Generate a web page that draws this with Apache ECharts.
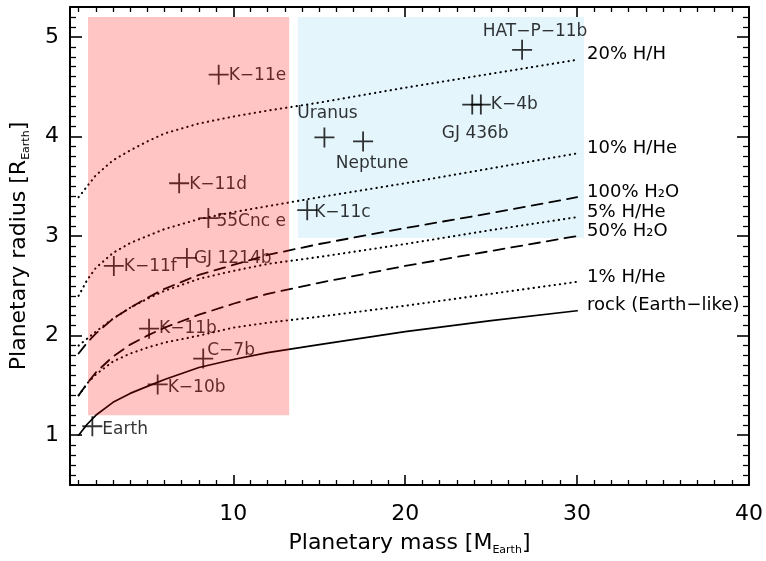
<!DOCTYPE html>
<html>
<head>
<meta charset="utf-8">
<script src="https://cdn.jsdelivr.net/npm/echarts@6/dist/echarts.min.js"></script>
<style>
  html, body { margin: 0; padding: 0; background: #fff; }
  #chart { width: 766px; height: 561px; }
</style>
</head>
<body>
<div id="chart"></div>
<script type="text/javascript">
	// model curves: radius vs mass
	var massGrid   = [1, 1.5, 2, 3, 4, 5, 6, 8, 10, 12, 15, 20, 25, 30];
	var hh20       = [3.39, 3.50, 3.61, 3.76, 3.86, 3.95, 4.03, 4.13, 4.20, 4.26, 4.34, 4.49, 4.63, 4.77];
	var hhe10      = [2.40, 2.56, 2.68, 2.83, 2.93, 3.00, 3.07, 3.17, 3.24, 3.30, 3.39, 3.53, 3.68, 3.83];
	var water100   = [1.82, 1.93, 2.02, 2.17, 2.28, 2.38, 2.47, 2.61, 2.71, 2.81, 2.92, 3.08, 3.23, 3.39];
	var hhe5       = [1.90, 1.97, 2.04, 2.17, 2.28, 2.37, 2.45, 2.57, 2.65, 2.72, 2.79, 2.92, 3.06, 3.19];
	var water50    = [1.40, 1.52, 1.63, 1.79, 1.91, 2.00, 2.08, 2.21, 2.32, 2.42, 2.53, 2.70, 2.85, 3.00];
	var hhe1       = [1.40, 1.52, 1.61, 1.74, 1.82, 1.88, 1.93, 2.00, 2.08, 2.13, 2.19, 2.30, 2.42, 2.54];
	var rockEarth  = [1.00, 1.11, 1.20, 1.33, 1.42, 1.49, 1.56, 1.68, 1.76, 1.83, 1.91, 2.04, 2.15, 2.25];

	// planets
	var planetNames  = ['Earth', 'K−10b', 'C−7b', 'K−11b', 'K−11f', 'GJ 1214b', '55Cnc e', 'K−11d', 'K−11e',
	                    'Uranus', 'Neptune', 'K−11c', 'GJ 436b', 'K−4b', 'HAT−P−11b'];
	var planetMass   = [1.8, 5.6, 8.25, 5.1, 3.05, 7.3, 8.55, 6.85, 9.15, 15.3, 17.55, 14.3, 23.9, 24.4, 26.8];
	var planetRadius = [1.09, 1.51, 1.77, 2.07, 2.70, 2.78, 3.18, 3.53, 4.62, 3.99, 3.95, 3.26, 4.32, 4.32, 4.87];

	// shaded zones [mass, radius] corners
	var pinkZone = [[1.55, 1.2], [13.25, 5.2]];
	var blueZone = [[13.75, 2.98], [30.4, 5.2]];

	// ticks
	var xMajorTicks = [10, 20, 30, 40];
	var xMinorTicks = [1, 2, 3, 4, 5, 6, 7, 8, 9, 11, 12, 13, 14, 15, 16, 17, 18, 19,
	                   21, 22, 23, 24, 25, 26, 27, 28, 29, 31, 32, 33, 34, 35, 36, 37, 38, 39];
	var yMajorTicks = [1, 2, 3, 4, 5];
	var yMinorTicks = [0.6, 0.7, 0.8, 0.9, 1.1, 1.2, 1.3, 1.4, 1.5, 1.6, 1.7, 1.8, 1.9,
	                   2.1, 2.2, 2.3, 2.4, 2.5, 2.6, 2.7, 2.8, 2.9, 3.1, 3.2, 3.3, 3.4, 3.5, 3.6, 3.7, 3.8, 3.9,
	                   4.1, 4.2, 4.3, 4.4, 4.5, 4.6, 4.7, 4.8, 4.9, 5.1, 5.2];

	var FONT = 'DejaVu Sans';
	var DOT = [0.3, 5.0];
	var DASH = [11, 7];

	function zip(xs, ys) {
		var out = [];
		for (var i = 0; i < xs.length; i++) out.push([xs[i], ys[i]]);
		return out;
	}

	var labelPlace = {
		'Earth':     {position: 'right',  distance: 0, offset: [0, 3]},
		'K−10b':     {position: 'right',  distance: 0, offset: [0, 3]},
		'C−7b':      {position: 'right',  distance: 0, offset: [-6, -8]},
		'K−11b':     {position: 'right',  distance: 0, offset: [0, 0]},
		'K−11f':     {position: 'right',  distance: 0, offset: [0, 1]},
		'GJ 1214b':  {position: 'right',  distance: 0, offset: [-3, 1]},
		'55Cnc e':   {position: 'right',  distance: 0, offset: [-2, 3]},
		'K−11d':     {position: 'right',  distance: 0, offset: [0, 1]},
		'K−11e':     {position: 'right',  distance: 0, offset: [0, 1]},
		'Uranus':    {position: 'top',    distance: 5, offset: [3, 0]},
		'Neptune':   {position: 'bottom', distance: 4, offset: [9, 0]},
		'K−11c':     {position: 'right',  distance: 0, offset: [-3, 2]},
		'GJ 436b':   {position: 'bottom', distance: 10, offset: [3, 0]},
		'K−4b':      {position: 'right',  distance: 0, offset: [0, 0]},
		'HAT−P−11b': {position: 'top',    distance: 0, offset: [13, 0]}
	};

	var planetData = [];
	for (var i = 0; i < planetNames.length; i++) {
		var p = labelPlace[planetNames[i]];
		planetData.push({
			name: planetNames[i],
			value: [planetMass[i], planetRadius[i]],
			label: {show: true, position: p.position, distance: p.distance, offset: p.offset}
		});
	}

	function modelLine(name, ys, type) {
		return {
			name: name,
			type: 'line',
			data: zip(massGrid, ys),
			symbol: 'none',
			silent: true,
			lineStyle: {color: '#000', width: type === 'solid' ? 1.7 : (type === DOT ? 2.1 : 1.8), type: type, cap: 'round'},
			endLabel: {show: true, formatter: name, offset: [2, -5], color: '#000', fontSize: 18, fontFamily: FONT}
		};
	}

	function axis(pos, ticks, len, show, range) {
		return {
			type: 'value', position: pos, min: range[0], max: range[1],
			splitLine: {show: false},
			axisLine: {show: show, onZero: false, lineStyle: {color: '#000', width: 2}},
			axisTick: {show: true, inside: true, length: len, customValues: ticks,
			           lineStyle: {color: '#000', width: len > 8 ? 1.6 : 1.3}},
			axisLabel: {show: false}
		};
	}

	var xRange = [0.5, 40];
	var yRange = [0.5, 5.3];

	var xMain = axis('bottom', xMajorTicks, 10, true, xRange);
	xMain.axisLabel = {show: true, customValues: xMajorTicks, margin: 18, color: '#000', fontSize: 22, fontFamily: FONT};
	xMain.name = '{t|Planetary mass [M}{s|Earth}{t|]}';
	xMain.nameLocation = 'middle';
	xMain.nameGap = 45;
	xMain.nameTextStyle = {color: '#000', rich: {
		t: {fontSize: 22, fontFamily: FONT, color: '#000', lineHeight: 26},
		s: {fontSize: 11, fontFamily: FONT, color: '#000', verticalAlign: 'bottom', lineHeight: 14}
	}};

	var yMain = axis('left', yMajorTicks, 12, true, yRange);
	yMain.axisLabel = {show: true, customValues: yMajorTicks, margin: 11, color: '#000', fontSize: 22, fontFamily: FONT};
	yMain.name = '{t|Planetary radius [R}{s|Earth}{t|]}';
	yMain.nameLocation = 'middle';
	yMain.nameGap = 38;
	yMain.nameTextStyle = {color: '#000', rich: {
		t: {fontSize: 22, fontFamily: FONT, color: '#000', lineHeight: 26},
		s: {fontSize: 11, fontFamily: FONT, color: '#000', verticalAlign: 'bottom', lineHeight: 14}
	}};

	var chart = echarts.init(document.getElementById('chart'));
	chart.setOption({
		animation: false,
		backgroundColor: '#fff',
		textStyle: {fontFamily: FONT},
		grid: {left: 70, right: 15, top: 7, bottom: 70, containLabel: false},
		xAxis: [
			xMain,
			axis('bottom', xMinorTicks, 5, false, xRange),
			axis('top', xMajorTicks, 10, true, xRange),
			axis('top', xMinorTicks, 5, false, xRange)
		],
		yAxis: [
			yMain,
			axis('left', yMinorTicks, 6, false, yRange),
			axis('right', yMajorTicks, 12, true, yRange),
			axis('right', yMinorTicks, 6, false, yRange)
		],
		series: [
			{
				// light blue zone sits under the marks
				name: 'blueZone',
				type: 'scatter',
				data: [],
				silent: true,
				markArea: {
					silent: true,
					z: 0,
					label: {show: false},
					itemStyle: {color: '#e4f5fc'},
					data: [[{coord: blueZone[0]}, {coord: blueZone[1]}]]
				}
			},
			modelLine('20% H/H', hh20, DOT),
			modelLine('10% H/He', hhe10, DOT),
			modelLine('100% H₂O', water100, DASH),
			modelLine('5% H/He', hhe5, DOT),
			modelLine('50% H₂O', water50, DASH),
			modelLine('1% H/He', hhe1, DOT),
			modelLine('rock (Earth−like)', rockEarth, 'solid'),
			{
				name: 'planets',
				type: 'scatter',
				data: planetData,
				symbol: 'path://M9.1,0h1.8v20h-1.8zM0,9.1h20v1.8h-20z',
				symbolSize: 20,
				itemStyle: {color: '#000'},
				label: {formatter: '{b}', color: '#000', fontSize: 17, fontFamily: FONT},
				silent: true
			},
			{
				// pink zone is laid over the marks, tinting them
				name: 'pinkZone',
				type: 'scatter',
				data: [],
				silent: true,
				markArea: {
					silent: true,
					z: 10,
					label: {show: false},
					itemStyle: {color: 'rgba(255,0,0,0.23)'},
					data: [[{coord: pinkZone[0]}, {coord: pinkZone[1]}]]
				}
			}
		]
	});
</script>
</body>
</html>
